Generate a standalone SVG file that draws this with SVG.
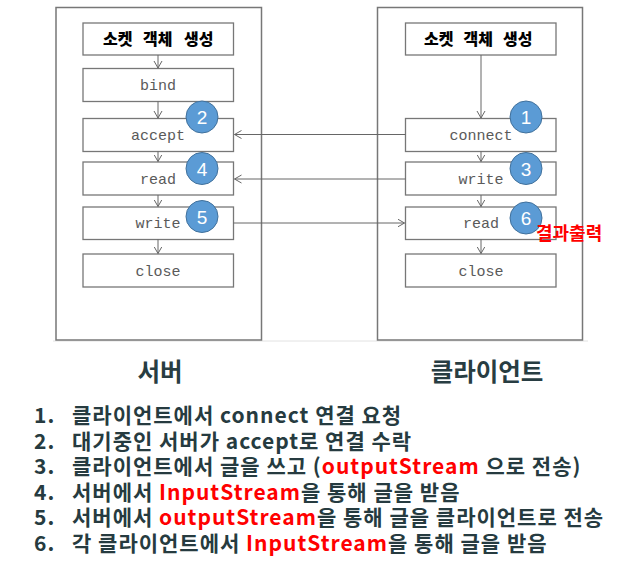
<svg xmlns="http://www.w3.org/2000/svg" width="629" height="576" viewBox="0 0 629 576">
<style>
.outer{fill:#fff;stroke:#777;stroke-width:1.5}
.box{fill:#fff;stroke:#777;stroke-width:1.3}
.mono{font-family:"Liberation Mono","DejaVu Sans Mono",monospace;font-size:15px;fill:#5a5a5a;text-anchor:middle}
.kb{font-family:"Noto Sans CJK KR","Noto Sans",sans-serif;font-size:16px;font-weight:900;fill:#000}
.ln{stroke:#666;stroke-width:1;fill:none}
.num circle{fill:#5b9bd5;stroke:#41719c;stroke-width:1}
.num text{font-family:"Liberation Sans","Open Sans",sans-serif;font-size:19px;fill:#fff;text-anchor:middle}
.lbl{font-family:"Noto Sans CJK KR","Noto Sans",sans-serif;font-size:24.5px;font-weight:bold;fill:#283d42;text-anchor:middle}
.list{font-family:"Noto Sans CJK KR","Noto Sans",sans-serif;font-size:21px;font-weight:bold;fill:#263b40;letter-spacing:1px}
.red{fill:#ff0000}
</style>
<defs>
<marker id="ah" markerUnits="userSpaceOnUse" markerWidth="8" markerHeight="10" refX="7" refY="4" orient="auto" viewBox="0 0 8 8">
<path d="M0,0 L7,4 L0,8" fill="none" stroke="#666" stroke-width="1"/>
</marker>
</defs>
<rect width="629" height="576" fill="#fff"/>
<line x1="53" y1="341" x2="588" y2="341" stroke="#e2e2e2" stroke-width="1"/>

<g id="server">
<rect class="outer" x="56" y="7.5" width="205.5" height="332.5"/>
</g>
<g id="client">
<rect class="outer" x="377.5" y="7.5" width="205" height="332.5"/>
</g>

<g id="s-create"><rect class="box" x="83" y="23" width="150.5" height="32"/><text class="kb" y="45"><tspan x="103">소켓</tspan><tspan x="143">객체</tspan><tspan x="184">생성</tspan></text></g>
<g id="s-bind"><rect class="box" x="83" y="68.5" width="150.5" height="33"/><text class="mono" x="158" y="90">bind</text></g>
<g id="s-accept"><rect class="box" x="83" y="118.5" width="150.5" height="33"/><text class="mono" x="158" y="140">accept</text></g>
<g id="s-read"><rect class="box" x="83" y="162" width="150.5" height="33"/><text class="mono" x="158" y="183.5">read</text></g>
<g id="s-write"><rect class="box" x="83" y="207" width="150.5" height="32.5"/><text class="mono" x="158" y="228">write</text></g>
<g id="s-close"><rect class="box" x="83" y="254" width="150.5" height="33"/><text class="mono" x="158" y="275.5">close</text></g>

<g id="c-create"><rect class="box" x="405.5" y="23" width="150.5" height="32"/><text class="kb" y="45"><tspan x="424">소켓</tspan><tspan x="463.5">객체</tspan><tspan x="503">생성</tspan></text></g>
<g id="c-connect"><rect class="box" x="405.5" y="118.5" width="150.5" height="33"/><text class="mono" x="481" y="140">connect</text></g>
<g id="c-write"><rect class="box" x="405.5" y="162" width="150.5" height="33"/><text class="mono" x="481" y="183.5">write</text></g>
<g id="c-read"><rect class="box" x="405.5" y="207" width="150.5" height="32.5"/><text class="mono" x="481" y="228">read</text></g>
<g id="c-close"><rect class="box" x="405.5" y="254" width="150.5" height="33"/><text class="mono" x="481" y="275.5">close</text></g>

<g id="connectors">
<line class="ln" x1="158" y1="55" x2="158" y2="68" marker-end="url(#ah)"/>
<line class="ln" x1="158" y1="101.5" x2="158" y2="118" marker-end="url(#ah)"/>
<line class="ln" x1="158" y1="151.5" x2="158" y2="161.5" marker-end="url(#ah)"/>
<line class="ln" x1="158" y1="195" x2="158" y2="206.5" marker-end="url(#ah)"/>
<line class="ln" x1="158" y1="239.5" x2="158" y2="253.5" marker-end="url(#ah)"/>
<line class="ln" x1="481" y1="55" x2="481" y2="118" marker-end="url(#ah)"/>
<line class="ln" x1="481" y1="151.5" x2="481" y2="161.5" marker-end="url(#ah)"/>
<line class="ln" x1="481" y1="195" x2="481" y2="206.5" marker-end="url(#ah)"/>
<line class="ln" x1="481" y1="239.5" x2="481" y2="253.5" marker-end="url(#ah)"/>
<line class="ln" x1="405.5" y1="134.5" x2="234.5" y2="134.5" marker-end="url(#ah)"/>
<line class="ln" x1="405.5" y1="179" x2="234.5" y2="179" marker-end="url(#ah)"/>
<line class="ln" x1="233.5" y1="223" x2="404.5" y2="223" marker-end="url(#ah)"/>
</g>

<g id="n2" class="num"><circle cx="202" cy="117" r="16"/><text x="202" y="124">2</text></g>
<g id="n4" class="num"><circle cx="202" cy="168.5" r="16"/><text x="202" y="175.5">4</text></g>
<g id="n5" class="num"><circle cx="202" cy="216.5" r="16"/><text x="202" y="223.5">5</text></g>
<g id="n1" class="num"><circle cx="526" cy="117" r="16"/><text x="526" y="124">1</text></g>
<g id="n3" class="num"><circle cx="526" cy="168.5" r="16"/><text x="526" y="175.5">3</text></g>
<g id="n6" class="num"><circle cx="526" cy="218" r="16"/><text x="526" y="225">6</text></g>

<text x="536" y="240" font-family="Noto Sans CJK KR, Noto Sans, sans-serif" font-size="18" font-weight="bold" fill="#ff0000">결과출력</text>

<text class="lbl" x="160" y="381">서버</text>
<text class="lbl" x="487" y="381">클라이언트</text>

<g class="list">
<text x="34" y="423">1.</text><text x="72" y="423">클라이언트에서 connect 연결 요청</text>
<text x="34" y="448.5">2.</text><text x="72" y="448.5">대기중인 서버가 accept로 연결 수락</text>
<text x="34" y="474">3.</text><text x="72" y="474">클라이언트에서 글을 쓰고 (<tspan class="red">outputStream</tspan> 으로 전송)</text>
<text x="34" y="499.5">4.</text><text x="72" y="499.5">서버에서 <tspan class="red">InputStream</tspan>을 통해 글을 받음</text>
<text x="34" y="525">5.</text><text x="72" y="525">서버에서 <tspan class="red">outputStream</tspan>을 통해 글을 클라이언트로 전송</text>
<text x="34" y="550.5">6.</text><text x="72" y="550.5">각 클라이언트에서 <tspan class="red">InputStream</tspan>을 통해 글을 받음</text>
</g>
</svg>
